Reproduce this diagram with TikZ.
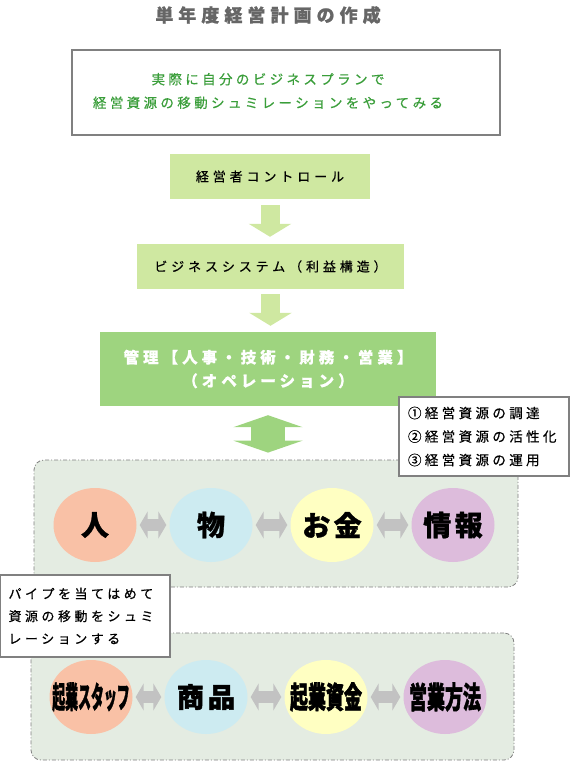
\documentclass[tikz,border=0pt]{standalone}
\usepackage{fontspec}
\usepackage{graphicx}
\setmainfont{Noto Sans CJK JP}
\usetikzlibrary{shapes.geometric,arrows.meta}

\definecolor{paleleaf}{HTML}{CFE8A1}
\definecolor{midleaf}{HTML}{9ED47F}
\definecolor{textgreen}{HTML}{3A9E3A}
\definecolor{framegray}{HTML}{808080}
\definecolor{titlegray}{HTML}{666666}
\definecolor{regionfill}{HTML}{E4ECE2}
\definecolor{peach}{HTML}{F9C1A6}
\definecolor{skyblue}{HTML}{CDEBF1}
\definecolor{cream}{HTML}{FFFFC2}
\definecolor{lilac}{HTML}{DDBCDC}
\definecolor{pipegray}{HTML}{C2C2C2}

\tikzset{
  spaced/.style 2 args={font=\fontsize{#1}{#1}\selectfont\addfontfeatures{LetterSpace=#2,FakeBold=0.5}},
  stepbox/.style={fill=paleleaf, inner sep=0pt, spaced={13}{30}},
  notebox/.style={draw=framegray, line width=1.5pt, fill=white, inner sep=0pt, align=left},
  region/.style={draw=framegray, fill=regionfill, line width=0.8pt,
    dash pattern=on 4pt off 2pt on 1pt off 2pt, rounded corners=10pt, inner sep=0pt},
  resource/.style={ellipse, inner sep=0pt, minimum width=83pt, minimum height=74pt,
    font=\fontsize{28}{28}\selectfont\bfseries\addfontfeatures{FakeBold=1}},
  heavy/.style={font=\fontsize{#1}{#1}\selectfont\bfseries\addfontfeatures{FakeBold=2}},
  downarrow/.style={line width=19pt, paleleaf, -{Triangle[width=42pt,length=13pt]}},
  bothway/.style={line width=34pt, midleaf,
    {Triangle[width=69pt,length=12pt]}-{Triangle[width=69pt,length=12pt]}},
  pipe/.style={line width=12pt, pipegray, shorten <=3pt, shorten >=3pt,
    {Triangle[width=27pt,length=8pt]}-{Triangle[width=27pt,length=8pt]}}
}

\begin{document}
\begin{tikzpicture}[x=1pt,y=-1pt]
  \useasboundingbox (0,0) rectangle (570,761);

  % title
  \node[text=titlegray, font=\fontsize{18}{18}\selectfont\bfseries\addfontfeatures{LetterSpace=28,FakeBold=1}]
    (title) at (268,15) {単年度経営計画の作成};

  % aim of the exercise
  \node[draw=framegray, line width=2pt, fill=white, minimum width=428pt, minimum height=85pt,
    inner sep=0pt] (aim) at (286,92.5) {};
  \node[align=center, text=textgreen, inner sep=0pt, spaced={13.5}{25}]
    (aimtext) at (268,91) {実際に自分のビジネスプランで\\[10pt]経営資源の移動シュミレーションをやってみる};

  % steps
  \node[stepbox, minimum width=200pt, minimum height=45pt] (ctrl) at (270,176.5) {経営者コントロール};
  \node[stepbox, minimum width=267pt, minimum height=45pt] (sys) at (270.5,266.5) {ビジネスシステム（利益構造）};
  \node[stepbox, fill=midleaf, text=white, minimum width=336pt, minimum height=74pt, align=center,
    font=\fontsize{15.5}{15.5}\selectfont\bfseries\addfontfeatures{LetterSpace=26,FakeBold=0.5}]
    (mgmt) at (268,369) {管理【人事・技術・財務・営業】\\[8pt]（オペレーション）};

  \draw[downarrow, shorten <=6pt, shorten >=7pt] (ctrl.south) -- (ctrl.south |- sys.north);
  \draw[downarrow, shorten <=5pt, shorten >=6pt] (sys.south) -- (sys.south |- mgmt.north);

  % resource areas
  \node[region, minimum width=484pt, minimum height=127pt] (res1) at (276,523.5) {};
  \node[region, minimum width=483pt, minimum height=127pt] (res2) at (272.5,696.5) {};

  \draw[bothway, shorten <=9pt, shorten >=7pt] (mgmt.south) -- (mgmt.south |- res1.north);

  % notes
  \node[notebox, minimum width=170pt, minimum height=79pt, spaced={13.5}{25}]
    (tasks) at (484,436.5) {\makebox[152pt][l]{①経営資源の調達}\\[10pt]②経営資源の活性化\\[10pt]③経営資源の運用};
  \node[notebox, minimum width=170pt, minimum height=82pt, spaced={13}{27}]
    (howto) at (85,616) {\makebox[153pt][l]{パイプを当てはめて}\\[9.5pt]資源の移動をシュミ\\[9.5pt]レーションする};

  % management resources
  \node[resource, fill=peach] (hito) at (95,525) {人};
  \node[resource, fill=skyblue] (mono) at (211,525) {物};
  \node[resource, fill=cream] (kane) at (332,525) {\makebox[0pt]{\addfontfeatures{LetterSpace=12}お金}};
  \node[resource, fill=lilac] (joho) at (453,525) {\makebox[0pt]{\addfontfeatures{LetterSpace=12}情報}};
  \draw[pipe] (hito) -- (mono);
  \draw[pipe] (mono) -- (kane);
  \draw[pipe] (kane) -- (joho);

  % business plan
  \node[resource, fill=peach, heavy=30] (staff) at (91,697) {\makebox[0pt]{\scalebox{0.43}[1]{起業スタッフ}}};
  \node[resource, fill=skyblue, heavy=27] (goods) at (206,697) {\makebox[0pt]{\addfontfeatures{LetterSpace=15}商品}};
  \node[resource, fill=cream, heavy=30] (fund) at (326,697) {\makebox[0pt]{\scalebox{0.6}[1]{起業資金}}};
  \node[resource, fill=lilac, heavy=30] (sales) at (445,697) {\makebox[0pt]{\scalebox{0.6}[1]{営業方法}}};
  \draw[pipe] (staff) -- (goods);
  \draw[pipe] (goods) -- (fund);
  \draw[pipe] (fund) -- (sales);
\end{tikzpicture}
\end{document}
